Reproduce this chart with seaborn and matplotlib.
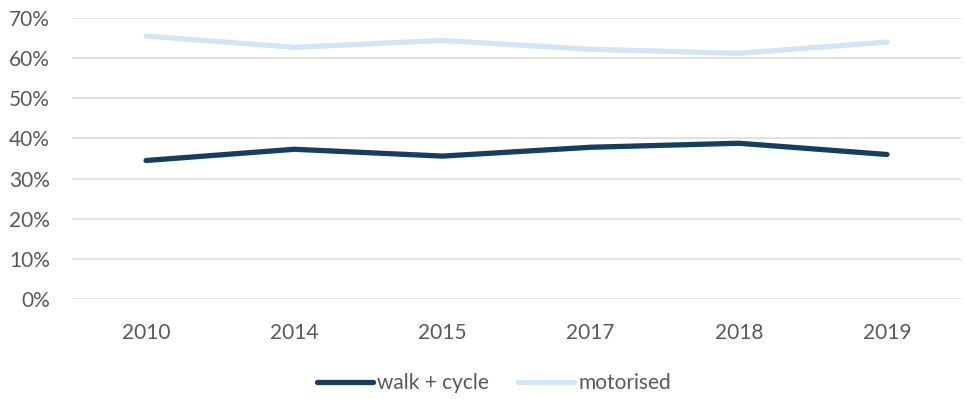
import matplotlib
matplotlib.use("Agg")
import matplotlib.pyplot as plt
import seaborn as sns
import pandas as pd
from matplotlib.ticker import PercentFormatter

years = ["2010", "2014", "2015", "2017", "2018", "2019"]
walk_cycle = [0.345, 0.373, 0.356, 0.378, 0.388, 0.360]
motorised = [0.655, 0.627, 0.644, 0.622, 0.612, 0.640]
series_names = ["walk + cycle", "motorised"]
colors = ["#173e61", "#d2e5f6"]

df = pd.DataFrame({
    "year": years * 2,
    "share": walk_cycle + motorised,
    "mode": [series_names[0]] * len(years) + [series_names[1]] * len(years),
})

sns.set_theme(style="white")
plt.rcParams["font.family"] = ["Lato", "DejaVu Sans"]

fig = plt.figure(figsize=(9.65, 3.99), dpi=100)
ax = fig.add_axes([0.0746, 0.2506, 0.9213, 0.7043])

sns.lineplot(data=df, x="year", y="share", hue="mode", palette=colors,
             linewidth=3.8, ax=ax, legend=False, sort=False,
             solid_capstyle="round")

ax.set_xlim(-0.5, len(years) - 0.5)
ax.set_ylim(0, 0.7)
ax.set_yticks([i / 10 for i in range(8)])
ax.yaxis.set_major_formatter(PercentFormatter(1.0, decimals=0))
ax.grid(axis="y", color="#d9d9d9", linewidth=1.1)
ax.set_axisbelow(True)
for s in ax.spines.values():
    s.set_visible(False)
ax.set_xlabel("")
ax.set_ylabel("")
ax.tick_params(axis="both", length=0, labelsize=15, colors="#595959")
ax.tick_params(axis="x", pad=17)
ax.tick_params(axis="y", pad=16)

handles = [plt.Line2D([0], [0], color=c, linewidth=3.8, solid_capstyle="round")
           for c in colors]
fig.legend(handles, series_names, loc="center", bbox_to_anchor=(0.512, 0.04),
           ncol=2, frameon=False, fontsize=15, labelcolor="#595959",
           handlelength=2.7, handletextpad=0.2, columnspacing=1.4)

fig.savefig("out.png", dpi=100)
